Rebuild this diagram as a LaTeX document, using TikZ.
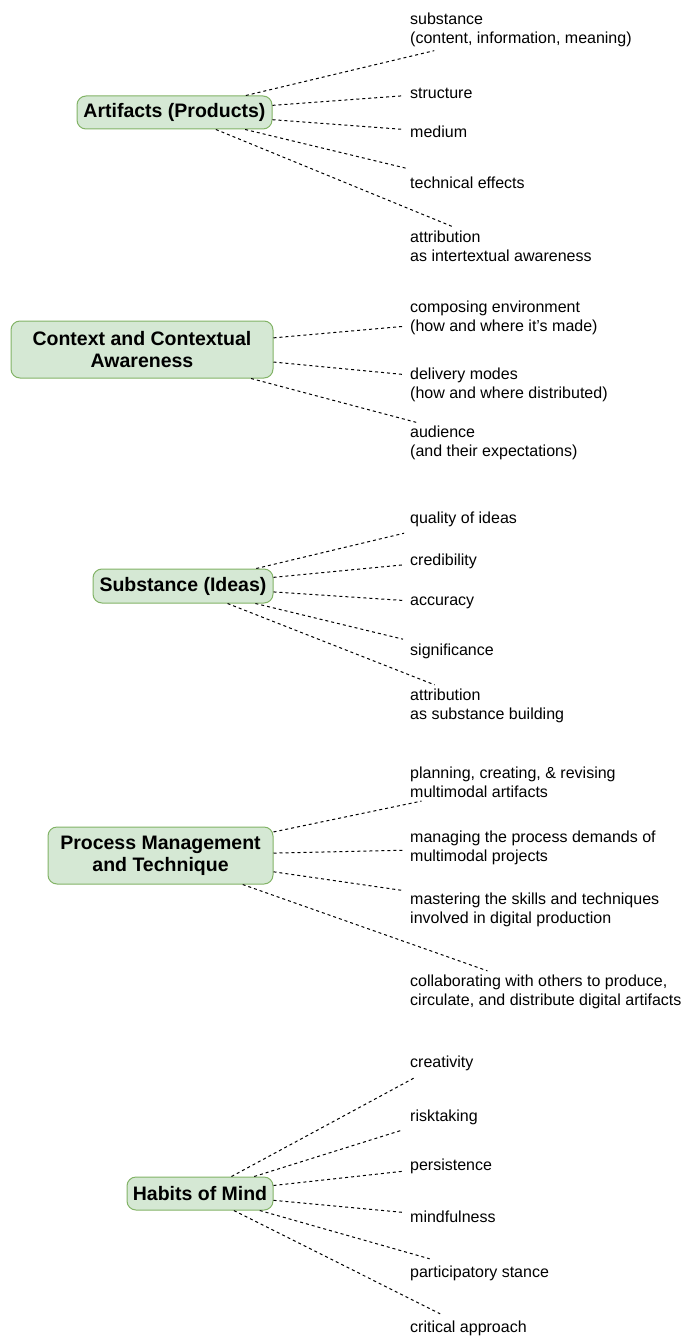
\documentclass[tikz,border=0pt]{standalone}
\usepackage{fontspec}
\setmainfont{Liberation Sans}
\usepackage{tikz}

\begin{document}
\begin{tikzpicture}[x=1pt,y=-1pt]
      \tikzset{
        topic/.style={shape=rectangle,rounded corners=9pt,draw={rgb,255:red,130;green,179;blue,102},
          fill={rgb,255:red,213;green,232;blue,212},line width=1pt,align=center,inner sep=0pt,
          font=\bfseries\fontsize{19.5}{22}\selectfont},
        leaf/.style={anchor=west,align=left,inner xsep=7pt,inner ysep=3.5pt,minimum height=28pt,
          font=\fontsize{16}{19}\selectfont},
        link/.style={dashed,dash pattern=on 3pt off 3pt,line width=1pt}
      }
      \useasboundingbox (0,0) rectangle (683,1337);

      % artifacts
      \node[topic,minimum width=195pt,minimum height=33pt](art) at (174.5,112.5) {Artifacts (Products)};
      \node[leaf](art1) at (403,30) {substance\\(content, information, meaning)};
      \node[leaf](art2) at (403,93) {structure};
      \node[leaf](art3) at (403,132) {medium};
      \node[leaf](art4) at (403,183) {technical effects};
      \node[leaf](art5) at (403,246.5) {attribution\\as intertextual awareness};

      \draw [link] (art) edge (art1);
      \draw [link] (art) edge (art2);
      \draw [link] (art) edge (art3);
      \draw [link] (art) edge (art4);
      \draw [link] (art) edge (art5);

      % context
      \node[topic,minimum width=262pt,minimum height=57pt](ctx) at (142,349.5) {Context and Contextual\\Awareness};
      \node[leaf](ctx1) at (403,317.5) {composing environment\\(how and where it’s made)};
      \node[leaf](ctx2) at (403,384.5) {delivery modes\\(how and where distributed)};
      \node[leaf](ctx3) at (403,443) {audience\\(and their expectations)};

      \draw [link] (ctx) edge (ctx1);
      \draw [link] (ctx) edge (ctx2);
      \draw [link] (ctx) edge (ctx3);

      % substance
      \node[topic,minimum width=180pt,minimum height=34pt](sub) at (183,586) {Substance (Ideas)};
      \node[leaf](sub1) at (403,519) {quality of ideas};
      \node[leaf](sub2) at (403,561) {credibility};
      \node[leaf](sub3) at (403,603) {accuracy};
      \node[leaf](sub4) at (403,651) {significance};
      \node[leaf](sub5) at (403,705.5) {attribution\\as substance building};

      \draw [link] (sub) edge (sub1);
      \draw [link] (sub) edge (sub2);
      \draw [link] (sub) edge (sub3);
      \draw [link] (sub) edge (sub4);
      \draw [link] (sub) edge (sub5);

      % process
      \node[topic,minimum width=225pt,minimum height=57pt](proc) at (160.5,855.5) {Process Management\\and Technique};
      \node[leaf](proc1) at (403,782) {planning, creating, \& revising\\multimodal artifacts};
      \node[leaf](proc2) at (403,847.5) {managing the process demands of\\multimodal projects};
      \node[leaf](proc3) at (403,909.5) {mastering the skills and techniques\\involved in digital production};
      \node[leaf](proc4) at (403,991.5) {collaborating with others to produce,\\circulate, and distribute digital artifacts};

      \draw [link] (proc) edge (proc1);
      \draw [link] (proc) edge (proc2);
      \draw [link] (proc) edge (proc3);
      \draw [link] (proc) edge (proc4);

      % habits
      \node[topic,minimum width=146pt,minimum height=33pt](hab) at (200,1193.5) {Habits of Mind};
      \node[leaf](hab1) at (403,1063) {creativity};
      \node[leaf](hab2) at (403,1117) {risktaking};
      \node[leaf](hab3) at (403,1166) {persistence};
      \node[leaf](hab4) at (403,1217) {mindfulness};
      \node[leaf](hab5) at (403,1273) {participatory stance};
      \node[leaf](hab6) at (403,1328) {critical approach};

      \draw [link] (hab) edge (hab1);
      \draw [link] (hab) edge (hab2);
      \draw [link] (hab) edge (hab3);
      \draw [link] (hab) edge (hab4);
      \draw [link] (hab) edge (hab5);
      \draw [link] (hab) edge (hab6);
    \end{tikzpicture}
\end{document}
